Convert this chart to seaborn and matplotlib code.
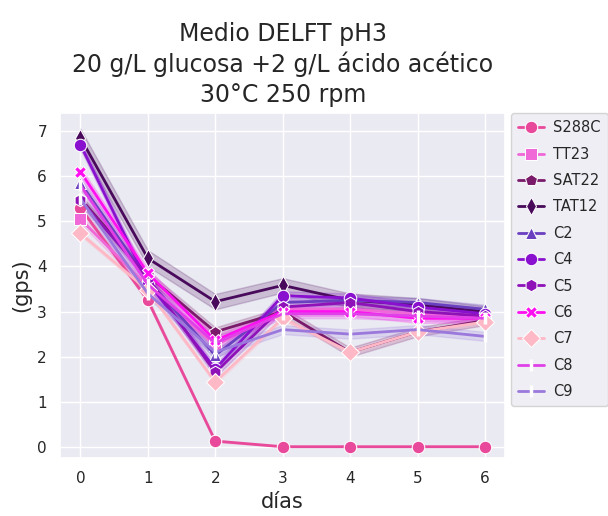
import matplotlib
matplotlib.use("Agg")
import matplotlib.pyplot as plt
import seaborn as sns
import pandas as pd
from matplotlib.colors import to_hex

days = [0, 1, 2, 3, 4, 5, 6]
strains = ["S288C", "TT23", "SAT22", "TAT12", "C2", "C4", "C5", "C6", "C7", "C8", "C9"]

# lower / upper replicate values (gps)
s288c_lo = [5.25, 3.20, 0.11, 0.00, 0.00, 0.00, 0.00]
s288c_hi = [5.35, 3.30, 0.15, 0.01, 0.01, 0.01, 0.01]
tt23_lo = [4.95, 3.45, 2.15, 2.95, 2.95, 2.85, 2.75]
tt23_hi = [5.15, 3.65, 2.35, 3.15, 3.15, 3.05, 2.95]
sat22_lo = [5.40, 3.70, 2.45, 2.90, 2.00, 2.45, 2.70]
sat22_hi = [5.60, 3.90, 2.65, 3.10, 2.20, 2.65, 2.90]
tat12_lo = [6.65, 4.00, 3.05, 3.42, 3.10, 3.00, 2.88]
tat12_hi = [7.05, 4.36, 3.39, 3.74, 3.40, 3.30, 3.12]
c2_lo = [5.75, 3.60, 1.93, 3.10, 3.15, 3.10, 2.95]
c2_hi = [5.95, 3.80, 2.13, 3.30, 3.35, 3.30, 3.15]
c4_lo = [6.60, 3.55, 1.63, 3.25, 3.20, 3.00, 2.85]
c4_hi = [6.80, 3.75, 1.83, 3.45, 3.40, 3.20, 3.05]
c5_lo = [5.37, 3.65, 1.55, 3.00, 3.10, 2.90, 2.80]
c5_hi = [5.57, 3.85, 1.75, 3.20, 3.30, 3.10, 3.00]
c6_lo = [6.00, 3.75, 2.26, 2.90, 2.90, 2.75, 2.75]
c6_hi = [6.20, 3.95, 2.46, 3.10, 3.10, 2.95, 2.95]
c7_lo = [4.68, 3.42, 1.39, 2.80, 2.05, 2.50, 2.72]
c7_hi = [4.78, 3.52, 1.49, 2.90, 2.15, 2.60, 2.82]
c8_lo = [5.70, 3.50, 2.20, 2.85, 2.85, 2.80, 2.75]
c8_hi = [5.90, 3.70, 2.40, 3.05, 3.05, 3.00, 2.95]
c9_lo = [5.40, 3.30, 2.00, 2.50, 2.40, 2.50, 2.35]
c9_hi = [5.60, 3.50, 2.20, 2.70, 2.60, 2.70, 2.55]

lows = [s288c_lo, tt23_lo, sat22_lo, tat12_lo, c2_lo, c4_lo, c5_lo, c6_lo, c7_lo, c8_lo, c9_lo]
highs = [s288c_hi, tt23_hi, sat22_hi, tat12_hi, c2_hi, c4_hi, c5_hi, c6_hi, c7_hi, c8_hi, c9_hi]

colors = ["#e8499a", "#f067d8", "#7b1a6a", "#4a0a5c", "#6a3fc0", "#8a10d0",
          "#8e12b8", "#ff10f0", "#ffb8c6", "#e040e8", "#9a78dc"]
markers = ["o", "s", "p", "d", "^", "o", "h", "X", "D", "o", "o"]

rows = []
for name, lo, hi in zip(strains, lows, highs):
    for d, a, b in zip(days, lo, hi):
        rows.append({"días": d, "gps": a, "strain": name})
        rows.append({"días": d, "gps": b, "strain": name})
df = pd.DataFrame(rows)

sns.set_theme(style="darkgrid")
fig = plt.figure(figsize=(6.08, 5.16), dpi=100)
ax = fig.add_axes([0.099, 0.112, 0.732, 0.669])

sns.lineplot(data=df, x="días", y="gps", hue="strain", style="strain",
             hue_order=strains, style_order=strains,
             palette=dict(zip(strains, colors)),
             markers=dict(zip(strains, markers)), dashes=False,
             errorbar=("pi", 100), markersize=9, linewidth=2, ax=ax)

# C8 / C9: line-only look with white bar marker
special = {to_hex(colors[9]), to_hex(colors[10])}
for ln in ax.lines:
    if to_hex(ln.get_color()) in special:
        ln.set_marker("|")
        ln.set_markeredgecolor("white")
        ln.set_markeredgewidth(2.5)

ax.set_xlim(-0.3, 6.3)
ax.set_ylim(-0.25, 7.4)
ax.set_xticks(days)
ax.set_yticks(range(0, 8))
ax.tick_params(labelsize=11)
ax.set_xlabel("días", fontsize=15)
ax.set_ylabel("(gps)", fontsize=15)
ax.set_title("Medio DELFT pH3\n20 g/L glucosa +2 g/L ácido acético\n30°C 250 rpm",
             fontsize=17, linespacing=1.3, pad=8)

leg = ax.legend(loc="upper left", bbox_to_anchor=(1.012, 1.0), fontsize=10.5,
                borderaxespad=0, labelspacing=0.78, handlelength=1.8,
                handletextpad=0.6, borderpad=0.5)
for h in leg.legend_handles:
    if to_hex(h.get_color()) in special:
        h.set_marker("|")
        h.set_markeredgecolor("white")
        h.set_markeredgewidth(2.5)

fig.savefig("out.png", dpi=100)
